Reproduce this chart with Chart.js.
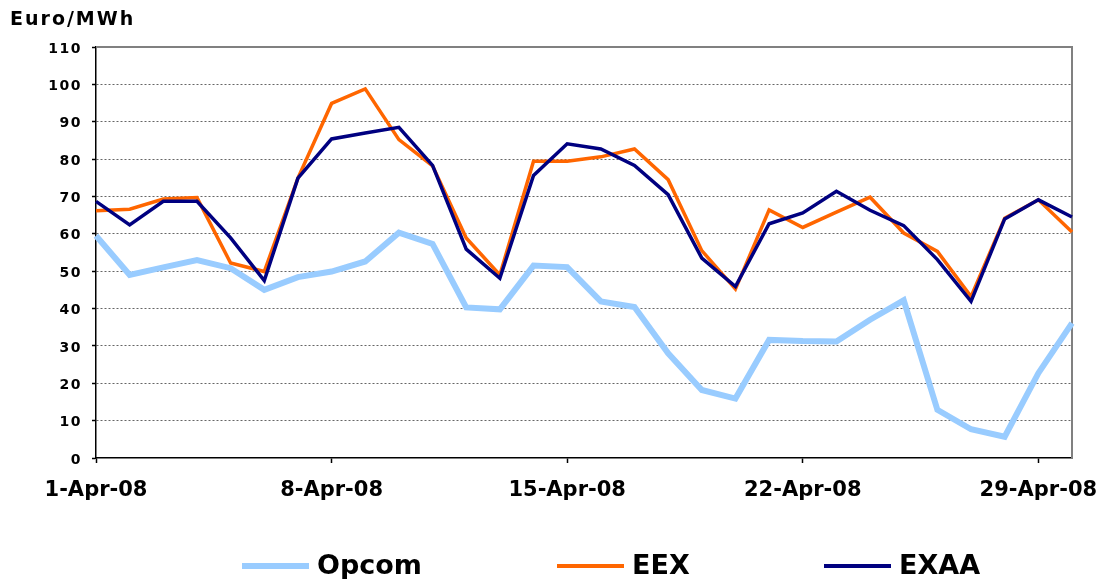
<!DOCTYPE html>
<html>
<head>
<meta charset="utf-8">
<script src="https://cdn.jsdelivr.net/npm/chart.js@4.4.0/dist/chart.umd.min.js"></script>
<style>
html,body{margin:0;padding:0;background:#fff;}
#wrap{position:relative;width:1108px;height:579px;overflow:hidden;}
#c{position:absolute;left:0;top:0;}
.t{position:absolute;font-family:"DejaVu Sans",sans-serif;font-weight:bold;color:#000;white-space:nowrap;}
.ln{position:absolute;}
</style>
</head>
<body>
<div id="wrap">
  <canvas id="c" width="1108" height="579"></canvas>
  <div id="title" class="t" style="left:10px;top:9px;font-size:19px;line-height:19px;letter-spacing:2px;"></div>
  <div id="legend"></div>
</div>
<script>
// ---- data ----
const categories = ['1-Apr-08','2-Apr-08','3-Apr-08','4-Apr-08','5-Apr-08','6-Apr-08','7-Apr-08','8-Apr-08','9-Apr-08','10-Apr-08',
  '11-Apr-08','12-Apr-08','13-Apr-08','14-Apr-08','15-Apr-08','16-Apr-08','17-Apr-08','18-Apr-08','19-Apr-08','20-Apr-08',
  '21-Apr-08','22-Apr-08','23-Apr-08','24-Apr-08','25-Apr-08','26-Apr-08','27-Apr-08','28-Apr-08','29-Apr-08','30-Apr-08'];
const xTickLabels = ['1-Apr-08','8-Apr-08','15-Apr-08','22-Apr-08','29-Apr-08'];
const opcom = [59.5, 49.0, 51.0, 53.0, 50.8, 45.0, 48.4, 49.9, 52.6, 60.3,
               57.3, 40.3, 39.8, 51.5, 51.1, 41.9, 40.4, 28.0, 18.2, 15.9,
               31.6, 31.3, 31.2, 37.0, 42.2, 12.9, 7.7, 5.7, 22.7, 36.1];
const eex   = [66.2, 66.6, 69.3, 69.7, 52.2, 49.9, 74.9, 94.9, 98.8, 85.2,
               78.2, 58.9, 49.0, 79.4, 79.4, 80.6, 82.7, 74.5, 55.5, 45.2,
               66.4, 61.7, 65.8, 69.8, 60.2, 55.3, 43.2, 64.2, 69.1, 60.5];
const exaa  = [68.7, 62.4, 68.7, 68.7, 58.9, 47.5, 74.9, 85.4, 87.0, 88.5,
               78.3, 55.9, 48.1, 75.6, 84.1, 82.7, 78.3, 70.5, 53.5, 45.9,
               62.7, 65.6, 71.4, 66.3, 62.2, 53.1, 41.9, 64.0, 69.1, 64.5];
const seriesNames = ['Opcom','EEX','EXAA'];
const yAxisTitle = 'Euro/MWh';
const yMin = 0, yMax = 110, yStep = 10;

// ---- styles ----
const colors = ['#99CCFF','#FF6600','#000080'];
const widths = [6, 3.5, 3.5];

const frame = {
  id: 'frame',
  beforeDatasetsDraw(chart) {
    const {ctx, chartArea: a} = chart;
    ctx.save();
    ctx.strokeStyle = '#808080';
    ctx.lineWidth = 2;
    ctx.beginPath();
    ctx.moveTo(a.left, a.top);
    ctx.lineTo(a.right, a.top);
    ctx.lineTo(a.right, a.bottom);
    ctx.stroke();
    ctx.restore();
  }
};

const chart = new Chart(document.getElementById('c').getContext('2d'), {
  type: 'line',
  data: {
    labels: categories,
    datasets: [
      {label: seriesNames[0], data: opcom, borderColor: colors[0], backgroundColor: colors[0], borderWidth: widths[0], order: 2},
      {label: seriesNames[1], data: eex,   borderColor: colors[1], backgroundColor: colors[1], borderWidth: widths[1], order: 1},
      {label: seriesNames[2], data: exaa,  borderColor: colors[2], backgroundColor: colors[2], borderWidth: widths[2], order: 0}
    ]
  },
  options: {
    responsive: false,
    animation: false,
    devicePixelRatio: 1,
    elements: {
      point: {radius: 0, hoverRadius: 0},
      line: {tension: 0, borderJoinStyle: 'miter', borderCapStyle: 'butt', fill: false}
    },
    layout: {padding: {top: 47, right: 36, left: 0, bottom: 0}},
    plugins: {legend: {display: false}, title: {display: false}, tooltip: {enabled: false}},
    scales: {
      x: {
        type: 'category',
        offset: false,
        grid: {
          display: true, drawOnChartArea: false, drawTicks: true, tickLength: 5, tickWidth: 1.5,
          tickColor: c => xTickLabels.includes(categories[c.index]) ? '#000' : 'rgba(0,0,0,0)'
        },
        border: {display: true, color: '#000', width: 1.5},
        ticks: {
          autoSkip: false, maxRotation: 0, minRotation: 0, padding: 15, color: '#000',
          font: {family: 'DejaVu Sans', weight: 'bold', size: 21},
          callback: (v, i) => xTickLabels.includes(categories[i]) ? categories[i] : ''
        },
        afterFit: s => { s.height = 121; }
      },
      y: {
        min: yMin, max: yMax,
        ticks: {stepSize: yStep, padding: 10, labelOffset: 2, color: '#000', font: {family: 'DejaVu Sans', weight: 'bold', size: 14}},
        grid: {
          color: c => (c.tick && (c.tick.value === yMin || c.tick.value === yMax)) ? 'rgba(0,0,0,0)' : '#666666',
          lineWidth: 1, drawTicks: true, tickLength: 4, tickColor: '#000', tickWidth: 1.5, tickBorderDash: []
        },
        border: {display: true, color: '#000', width: 1.5, dash: [2, 2]},
        afterFit: s => {
          s.width = 96;
          if (!s._lsWrapped) {
            const orig = s.drawLabels.bind(s);
            s.drawLabels = function(area) {
              this.ctx.save();
              this.ctx.letterSpacing = '1.5px';
              orig(area);
              this.ctx.restore();
            };
            s._lsWrapped = true;
          }
        }
      }
    }
  },
  plugins: [frame]
});

// ---- title & legend (HTML text) ----
document.getElementById('title').textContent = yAxisTitle;
const legendPos = [[242, 317], [557, 632], [824, 899]];
const legendLineW = [6, 4, 4];
const legend = document.getElementById('legend');
chart.data.datasets.forEach((ds, i) => {
  const line = document.createElement('div');
  line.className = 'ln';
  line.style.left = legendPos[i][0] + 'px';
  line.style.width = '67px';
  line.style.height = legendLineW[i] + 'px';
  line.style.top = (566 - legendLineW[i] / 2) + 'px';
  line.style.background = ds.borderColor;
  legend.appendChild(line);
  const tx = document.createElement('div');
  tx.className = 't';
  tx.style.left = legendPos[i][1] + 'px';
  tx.style.top = '551px';
  tx.style.fontSize = '27px';
  tx.style.lineHeight = '27px';
  tx.textContent = ds.label;
  legend.appendChild(tx);
});
</script>
</body>
</html>
